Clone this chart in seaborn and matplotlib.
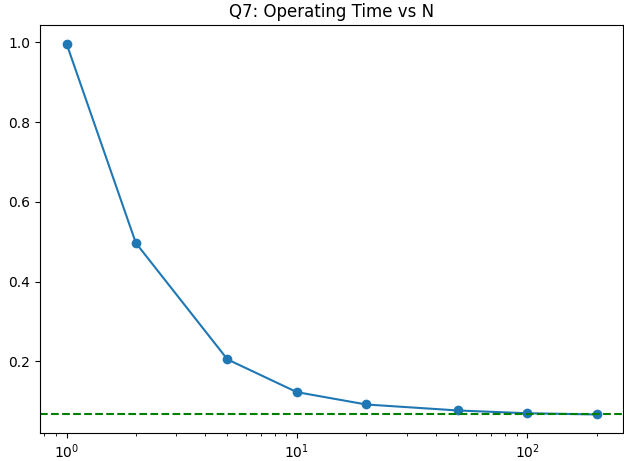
import numpy as np
import pandas as pd
import matplotlib
matplotlib.use("Agg")
import matplotlib.pyplot as plt
import seaborn as sns

n_values = [1, 2, 5, 10, 20, 50, 100, 200]
op_time = [0.997, 0.497, 0.205, 0.123, 0.092, 0.077, 0.070, 0.067]
limit = 0.068

df = pd.DataFrame({"N": n_values, "time": op_time})

fig = plt.figure(figsize=(6.24, 4.61), dpi=100)
ax = fig.add_axes([40/624, 1-433/461, (623-40)/624, (433-25)/461])
sns.lineplot(data=df, x="N", y="time", marker="o", markersize=7,
             markeredgewidth=0, color="#1f77b4", ax=ax)
ax.axhline(limit, color="green", linestyle="--")
ax.set_xscale("log")
ax.set_title("Q7: Operating Time vs N")
ax.set_xlabel("")
ax.set_ylabel("")
fig.savefig("out.png", dpi=100)
